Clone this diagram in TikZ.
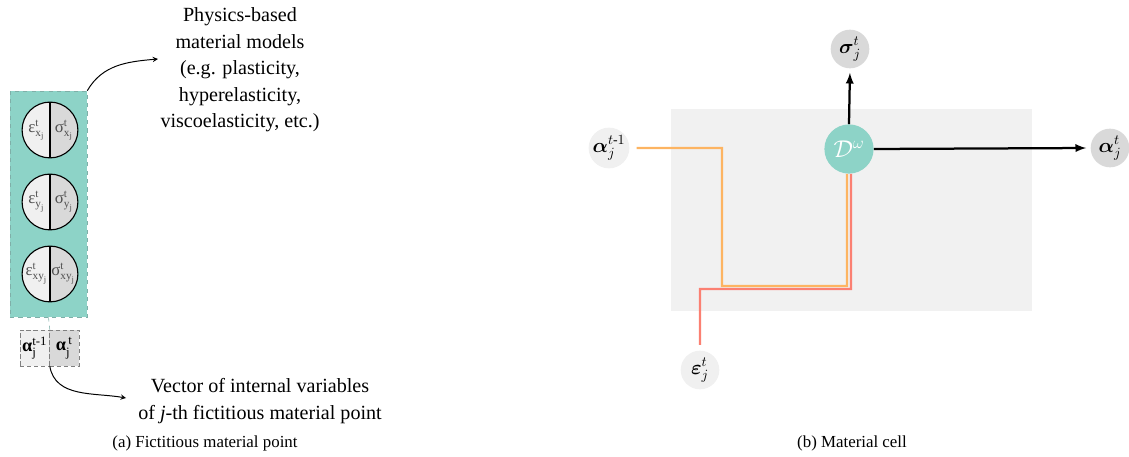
\documentclass[tikz,border=0pt]{standalone}
\usepackage{amsmath}
\usepackage{amssymb}
\usepackage{fontspec}
\setmainfont{Liberation Serif}
\usetikzlibrary{positioning}

\definecolor{cellteal}{HTML}{8DD3C7}
\definecolor{celledge}{HTML}{7FAFA8}
\definecolor{celllight}{HTML}{F0F0F0}
\definecolor{celldark}{HTML}{D9D9D9}
\definecolor{cellback}{HTML}{F1F1F1}
\definecolor{floworange}{HTML}{FDB462}
\definecolor{flowred}{HTML}{FB8072}
\definecolor{labelgray}{HTML}{505050}

\tikzset{
  matpoint/.style={draw=celledge, dashed, fill=cellteal, minimum width=54.8pt, minimum height=160.8pt, inner sep=0pt},
  halfball/.style={circle, draw, line width=0.8pt, fill=celllight, minimum size=39.7pt, inner sep=0pt,
    path picture={
      \fill[celldark] (path picture bounding box.north) rectangle (path picture bounding box.south east);
      \draw[line width=0.8pt] (path picture bounding box.north) -- (path picture bounding box.south);}},
  halflabel/.style={inner sep=0pt, text=labelgray, font=\fontsize{12}{14}\selectfont},
  ivar/.style={draw=gray, densely dashed, minimum width=21pt, minimum height=25.6pt, inner sep=0pt, font=\fontsize{13}{15}\selectfont},
  note/.style={-stealth, line width=0.7pt},
  bigtext/.style={align=center, font=\fontsize{14.3}{18.9}\selectfont},
  caption/.style={font=\fontsize{12}{14}\selectfont},
  cellframe/.style={fill=cellback, minimum width=256.8pt, minimum height=143.7pt, inner sep=0pt},
  io/.style={circle, minimum size=27.5pt, inner sep=0pt, font=\fontsize{14}{16}\selectfont},
  cellop/.style={circle, fill=cellteal, text=white, minimum size=35pt, inner sep=0pt, font=\fontsize{17}{19}\selectfont},
  flowA/.style={floworange, line width=1.5pt},
  flowB/.style={flowred, line width=1.5pt},
  outflow/.style={-latex, line width=1.6pt, shorten >=3pt}
}

\begin{document}
\begin{tikzpicture}[x=0.025cm, y=-0.025cm]
    \useasboundingbox (0,0) rectangle (1129,457);

    %Nodes (a)
    \node[matpoint] at (48.5,204) (mp) {};
    \node[halfball] at (50,130) (bx) {};
    \node[halfball] at (50,202) (by) {};
    \node[halfball] at (50,274) (bxy) {};
    \node[halflabel] at ([xshift=-9.5pt]bx.center) (ex) {$\text{ε}^{\text{t}}_{\text{x}_{\text{j}}}$};
    \node[halflabel] at ([xshift=10pt]bx.center) (sx) {$\text{σ}^{\text{t}}_{\text{x}_{\text{j}}}$};
    \node[halflabel] at ([xshift=-9.5pt]by.center) (ey) {$\text{ε}^{\text{t}}_{\text{y}_{\text{j}}}$};
    \node[halflabel] at ([xshift=10pt]by.center) (sy) {$\text{σ}^{\text{t}}_{\text{y}_{\text{j}}}$};
    \node[halflabel] at ([xshift=-9.5pt]bxy.center) (exy) {$\text{ε}^{\text{t}}_{\text{xy}_{\text{j}}}$};
    \node[halflabel] at ([xshift=9.5pt]bxy.center) (sxy) {$\text{σ}^{\text{t}}_{\text{xy}_{\text{j}}}$};
    \node[ivar, fill=celllight] at (34.75,348) (aleft) {$\text{\bfseries α}^{\text{t-1}}_{\text{j}}$};
    \node[ivar, fill=celldark] at (64.25,348) (aright) {$\text{\bfseries α}^{\,\text{t}}_{\text{j}}$};
    \node[bigtext] at (240,70) (phys) {Physics-based\\material models\\(e.g. plasticity,\\hyperelasticity,\\viscoelasticity, etc.)};
    \node[bigtext] at (260,401) (vec) {Vector of internal variables\\of \textit{j}-th fictitious material point};
    \node[caption] at (205,443) (capa) {(a) Fictitious material point};
    \coordinate (physin) at (158,59);
    \coordinate (vecin) at (126,398);

    %Lines (a)
    \draw[celledge, dashed] (mp.south) -- (aleft.north east);
    \draw[note] (mp.north east) to[out=60,in=185] (physin);
    \draw[note] (aleft.south east) to[out=-80,in=170] (vecin);

    %Nodes (b)
    \node[cellframe] at (851.5,210) (cell) {};
    \node[cellop] at (849,149) (D) {$\mathcal{D}^{\omega}$};
    \node[io, fill=celldark] at (850,49) (sig) {$\boldsymbol{\sigma}_j^t$};
    \node[io, fill=celllight] at (609,148) (aprev) {$\boldsymbol{\alpha}_j^{t\text{-}1}$};
    \node[io, fill=celldark] at (1110,148) (anext) {$\boldsymbol{\alpha}_j^t$};
    \node[io, fill=celllight] at (700,370) (eps) {$\boldsymbol{\varepsilon}_j^t$};
    \node[caption] at (852,443) (capb) {(b) Material cell};

    %Lines (b)
    \draw[flowA, shorten <=5pt] (aprev.east) -- (722,148) -- (722,286) -- (847,286) -- ([xshift=-1.4pt]D.south);
    \draw[flowB, shorten <=4pt] (eps.north) -- (700,289) -- (851,289) -- ([xshift=1.4pt]D.south);
    \draw[outflow] (D.north) -- (sig.south);
    \draw[outflow] (D.east) -- (anext.west);
\end{tikzpicture}
\end{document}
